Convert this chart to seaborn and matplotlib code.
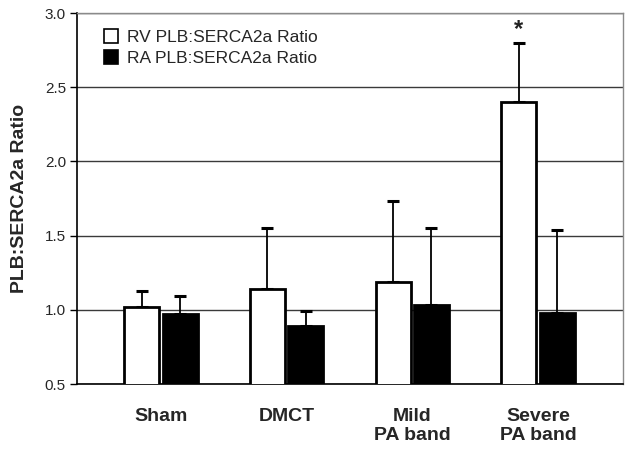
import pandas as pd
import numpy as np
import seaborn as sns
import matplotlib
matplotlib.use("Agg")
import matplotlib.pyplot as plt
from matplotlib.patches import Patch

sns.set_style("white")
plt.rcParams['font.family'] = ['Liberation Sans', 'DejaVu Sans']

groups = ["Sham", "DMCT", "Mild\nPA band", "Severe\nPA band"]
series = ["RV PLB:SERCA2a Ratio", "RA PLB:SERCA2a Ratio"]
rv_mean = [1.02, 1.14, 1.19, 2.40]
rv_err = [0.11, 0.41, 0.54, 0.40]
ra_mean = [0.97, 0.89, 1.03, 0.98]
ra_err = [0.12, 0.10, 0.52, 0.56]

df = pd.DataFrame({
    "group": groups * 2,
    "series": [series[0]] * 4 + [series[1]] * 4,
    "value": rv_mean + ra_mean,
})
errs = rv_err + ra_err

fig = plt.figure(figsize=(6.35, 4.55), dpi=100)
ax = fig.add_axes([0.1213, 0.156, 0.8597, 0.8154])

sns.barplot(data=df, x="group", y="value", hue="series", order=groups,
            hue_order=series, palette=["white", "black"], width=0.61, gap=0.08,
            edgecolor="black", linewidth=2, errorbar=None, legend=False,
            ax=ax, zorder=3)

# upper error bars
bars = [p for p in ax.patches]
xs = [p.get_x() + p.get_width() / 2 for p in bars]
tops = [p.get_y() + p.get_height() for p in bars]
for x, y, e in zip(xs, tops, errs):
    _, caps, _ = ax.errorbar(x, y, yerr=[[0], [e]], fmt="none", ecolor="black",
                             elinewidth=1.3, capsize=4.3, capthick=2.2, zorder=2)
    for c in caps:
        c.set_color("#2b2455")

ax.set_ylim(0.5, 3.0)
ax.set_xlim(-0.668, 3.676)
ax.set_yticks(np.arange(0.5, 3.01, 0.5))
ax.set_yticklabels([f"{v:.1f}" for v in np.arange(0.5, 3.01, 0.5)], fontsize=11)
ax.yaxis.grid(True, color="#3a3a3a", linewidth=1)
ax.set_axisbelow(True)
ax.tick_params(axis="y", left=True, length=5, width=1, color="black", pad=3)
ax.tick_params(axis="x", bottom=False, pad=14)
for lab in ax.get_xticklabels():
    lab.set_fontweight("bold")
    lab.set_fontsize(14)
    lab.set_verticalalignment("top")
    lab.set_linespacing(1.1)
ax.set_xlabel("")
ax.set_ylabel("PLB:SERCA2a Ratio", fontsize=14, fontweight="bold", labelpad=12)

for side in ["left", "bottom"]:
    ax.spines[side].set_color("black")
    ax.spines[side].set_linewidth(1.2)
for side in ["top", "right"]:
    ax.spines[side].set_color("#8a8a8a")
    ax.spines[side].set_linewidth(1)

# significance star over Severe PA band RV bar
ax.text(xs[3], 2.80 + 0.01, "*", ha="center", va="bottom", fontsize=17,
        fontweight="bold", color="#222222")

handles = [Patch(facecolor="white", edgecolor="black", linewidth=1.2),
           Patch(facecolor="black", edgecolor="black", linewidth=1.2)]
ax.legend(handles, series, loc="upper left", bbox_to_anchor=(0.036, 0.975),
          frameon=False, fontsize=12.5, handlelength=0.85, handleheight=0.85,
          handletextpad=0.5, labelspacing=0.3, borderaxespad=0)

fig.savefig("out.png", dpi=100)
